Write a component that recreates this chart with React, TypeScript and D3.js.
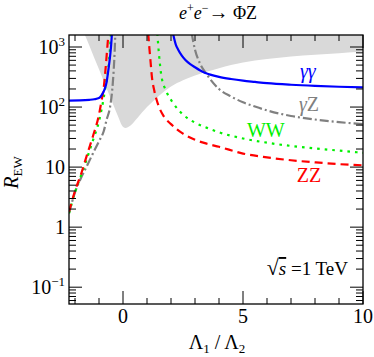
import React from "react";
import * as d3 from "d3";

// R_EW vs Lambda1/Lambda2, e+e- -> Phi Z at sqrt(s) = 1 TeV
const gaGaLeft: [number, number][] = [
  [-2.25, 128], [-1.8, 129], [-1.4, 132], [-1.2, 135], [-1.0, 141], [-0.89, 158],
  [-0.78, 192], [-0.68, 264], [-0.61, 414], [-0.54, 690], [-0.5, 1000], [-0.46, 1700],
];
const gaGaRight: [number, number][] = [
  [2.08, 1700], [2.2, 1100], [2.3, 900], [2.45, 720], [2.6, 610], [2.8, 520], [3.0, 460],
  [3.2, 410], [3.4, 372], [3.6, 350], [4.0, 318], [4.5, 293], [5.0, 275], [5.5, 262],
  [6.0, 250], [7.0, 235], [8.0, 225], [9.0, 218], [10.0, 213],
];
const gaZLeft: [number, number][] = [
  [-2.25, 1.7], [-2.0, 3.8], [-1.75, 6.6], [-1.5, 10.5], [-1.25, 17], [-1.0, 27],
  [-0.8, 40], [-0.68, 62], [-0.54, 100], [-0.45, 190], [-0.39, 400], [-0.35, 800], [-0.32, 1700],
];
const gaZRight: [number, number][] = [
  [2.86, 1700], [3.0, 900], [3.2, 540], [3.5, 345], [4.0, 200], [4.5, 150], [5.0, 120],
  [5.5, 102], [6.0, 88], [7.0, 71], [8.0, 62], [9.0, 56], [10.0, 52],
];
const wwLeft: [number, number][] = [
  [-2.25, 1.7], [-2.0, 3.8], [-1.75, 7.2], [-1.5, 14], [-1.25, 28], [-1.0, 58],
  [-0.9, 88], [-0.8, 145], [-0.7, 260], [-0.6, 480], [-0.55, 850], [-0.5, 1700],
];
const wwRight: [number, number][] = [
  [1.43, 1700], [1.5, 750], [1.6, 330], [1.8, 185], [2.1, 115], [2.5, 75], [3.0, 55],
  [3.5, 45], [4.0, 38], [5.0, 30], [6.0, 25.5], [7.0, 22.5], [8.0, 20.5], [9.0, 18.8], [10.0, 17.3],
];
const zzLeft: [number, number][] = [
  [-2.25, 1.8], [-2.0, 4.0], [-1.75, 7.6], [-1.5, 16], [-1.25, 33], [-1.0, 75],
  [-0.9, 124], [-0.8, 215], [-0.72, 465], [-0.64, 1150], [-0.6, 1700],
];
const zzRight: [number, number][] = [
  [1.05, 1700], [1.1, 950], [1.15, 560], [1.2, 330], [1.3, 190], [1.4, 132], [1.55, 90],
  [1.7, 70], [2.0, 52], [2.5, 36], [3.0, 28.5], [3.5, 24.5], [4.0, 21.8], [5.0, 16.8],
  [6.0, 14.5], [7.0, 13.0], [8.0, 12.0], [9.0, 11.2], [10.0, 10.7],
];
// lower edge of the grey excluded band (band reaches the top of the frame)
const bandEdge: [number, number][] = [
  [-1.62, 1700], [-1.4, 1050], [-1.2, 665], [-1.0, 425], [-0.8, 268], [-0.6, 170],
  [-0.4, 108], [-0.2, 69], [-0.05, 50], [0.1, 45], [0.3, 49], [0.6, 66], [1.0, 100],
  [1.5, 155], [2.0, 220], [2.5, 280], [3.0, 335], [3.5, 390], [4.0, 445], [4.5, 500],
  [5.0, 550], [6.0, 630], [7.0, 695], [8.0, 745], [9.0, 790], [10.0, 830],
];

const xMajor = [0, 5, 10];
const yMajor = [0.1, 1, 10, 100, 1000];
const yLabels = ["10", "1", "10", "10", "10"];
const yExps = ["\u22121", "", "", "2", "3"];

const W = 374;
const H = 357;
const m = { left: 69, right: 11, top: 35, bottom: 53 };
const serif = "'Liberation Serif', 'DejaVu Serif', serif";

export default function App() {
  const x = d3.scaleLinear().domain([-2.25, 10]).range([m.left, W - m.right]);
  const y = d3.scaleLog().domain([0.0525, 1585]).range([H - m.bottom, m.top]);
  const [x0, x1] = x.range();
  const [yb, yt] = y.range();

  const line = d3
    .line<[number, number]>()
    .x((d) => x(d[0]))
    .y((d) => y(d[1]))
    .curve(d3.curveMonotoneX);
  const area = d3
    .area<[number, number]>()
    .x((d) => x(d[0]))
    .y0(yt - 5)
    .y1((d) => y(d[1]))
    .curve(d3.curveMonotoneX);

  const xMinor = d3.range(-2, 11).filter((v) => !xMajor.includes(v));
  const yMinor: number[] = [];
  for (let e = -2; e <= 3; e++)
    for (let k = 2; k <= 9; k++) {
      const v = k * Math.pow(10, e);
      if (v >= 0.0525 && v <= 1585) yMinor.push(v);
    }

  const curves = [
    { d: [gaZLeft, gaZRight], color: "#808080", dash: "9,3,2,3", cap: "butt" },
    { d: [wwLeft, wwRight], color: "#00f000", dash: "2.6,5", cap: "butt" },
    { d: [zzLeft, zzRight], color: "#ff0000", dash: "8,5", cap: "butt" },
    { d: [gaGaLeft, gaGaRight], color: "#0000ff", dash: "none", cap: "butt" },
  ];

  return (
    <svg width={W} height={H} style={{ position: "absolute", left: 0, top: 0, background: "#fff" }}
      fontFamily={serif}>
      <defs>
        <clipPath id="plot">
          <rect x={x0} y={yt} width={x1 - x0} height={yb - yt} />
        </clipPath>
      </defs>
      <g clipPath="url(#plot)">
        <path d={area(bandEdge) ?? ""} fill="#d9d9d9" />
        {curves.map((c, i) =>
          c.d.map((seg, j) => (
            <path key={`${i}-${j}`} d={line(seg) ?? ""} fill="none" stroke={c.color}
              strokeWidth={2.2} strokeDasharray={c.dash} />
          ))
        )}
      </g>

      {/* ticks, mirrored on all sides */}
      <g stroke="#000" strokeWidth={1}>
        {xMajor.map((v) => (
          <g key={`xm${v}`}>
            <line x1={x(v)} x2={x(v)} y1={yb} y2={yb - 13} />
            <line x1={x(v)} x2={x(v)} y1={yt} y2={yt + 13} />
          </g>
        ))}
        {xMinor.map((v) => (
          <g key={`xn${v}`}>
            <line x1={x(v)} x2={x(v)} y1={yb} y2={yb - 6} />
            <line x1={x(v)} x2={x(v)} y1={yt} y2={yt + 6} />
          </g>
        ))}
        {yMajor.map((v) => (
          <g key={`ym${v}`}>
            <line x1={x0} x2={x0 + 13} y1={y(v)} y2={y(v)} />
            <line x1={x1} x2={x1 - 13} y1={y(v)} y2={y(v)} />
          </g>
        ))}
        {yMinor.map((v) => (
          <g key={`yn${v}`}>
            <line x1={x0} x2={x0 + 7} y1={y(v)} y2={y(v)} />
            <line x1={x1} x2={x1 - 7} y1={y(v)} y2={y(v)} />
          </g>
        ))}
      </g>
      <rect x={x0} y={yt} width={x1 - x0} height={yb - yt} fill="none" stroke="#000" strokeWidth={1.3} />

      {/* tick labels */}
      <g fontSize={20} fill="#000">
        {xMajor.map((v) => (
          <text key={`xl${v}`} x={x(v)} y={yb + 19} textAnchor="middle">{v}</text>
        ))}
        {yMajor.map((v, i) => (
          <text key={`yl${v}`} x={x0 - 4} y={y(v) + 7} textAnchor="end">
            {yLabels[i]}
            {yExps[i] && <tspan fontSize={13} dy={-8}>{yExps[i]}</tspan>}
          </text>
        ))}
      </g>

      {/* title and axis labels */}
      <text x={(x0 + x1) / 2 + 2} y={19} textAnchor="middle" fontSize={18}>
        <tspan fontStyle="italic">e</tspan>
        <tspan fontSize={12} dy={-7}>+</tspan>
        <tspan fontStyle="italic" dy={7}>e</tspan>
        <tspan fontSize={12} dy={-7}>{"\u2212"}</tspan>
        <tspan dy={7} fontSize={20}>{"\u2192"}</tspan>
        <tspan>{" \u03a6Z"}</tspan>
      </text>
      <text transform={`translate(18,${(yt + yb) / 2 + 3}) rotate(-90)`} textAnchor="middle" fontSize={20}>
        <tspan fontStyle="italic">R</tspan>
        <tspan fontSize={13} dy={4}>EW</tspan>
      </text>
      <text x={(x0 + x1) / 2 + 1} y={349} textAnchor="middle" fontSize={20}>
        {"\u039b"}<tspan fontSize={13} dy={4}>1</tspan>
        <tspan dy={-4}>{" / \u039b"}</tspan><tspan fontSize={13} dy={4}>2</tspan>
      </text>

      {/* curve labels */}
      <g fontSize={20}>
        <text x={x(7.7)} y={y(300)} textAnchor="middle" fill="#0000ff" fontStyle="italic">{"\u03b3\u03b3"}</text>
        <text x={x(7.75)} y={y(86)} textAnchor="middle" fill="#808080">
          <tspan fontStyle="italic">{"\u03b3"}</tspan>Z
        </text>
        <text x={x(5.95)} y={y(32)} textAnchor="middle" fill="#00f000">WW</text>
        <text x={x(7.75)} y={y(5.6)} textAnchor="middle" fill="#ff0000">ZZ</text>
      </g>

      <text x={x1 - 15} y={275} textAnchor="end" fontSize={19}>
        <tspan fontSize={22}>{"\u221a"}</tspan>
        <tspan fontStyle="italic" textDecoration="overline">s</tspan>
        <tspan>{" =1 TeV"}</tspan>
      </text>
    </svg>
  );
}
